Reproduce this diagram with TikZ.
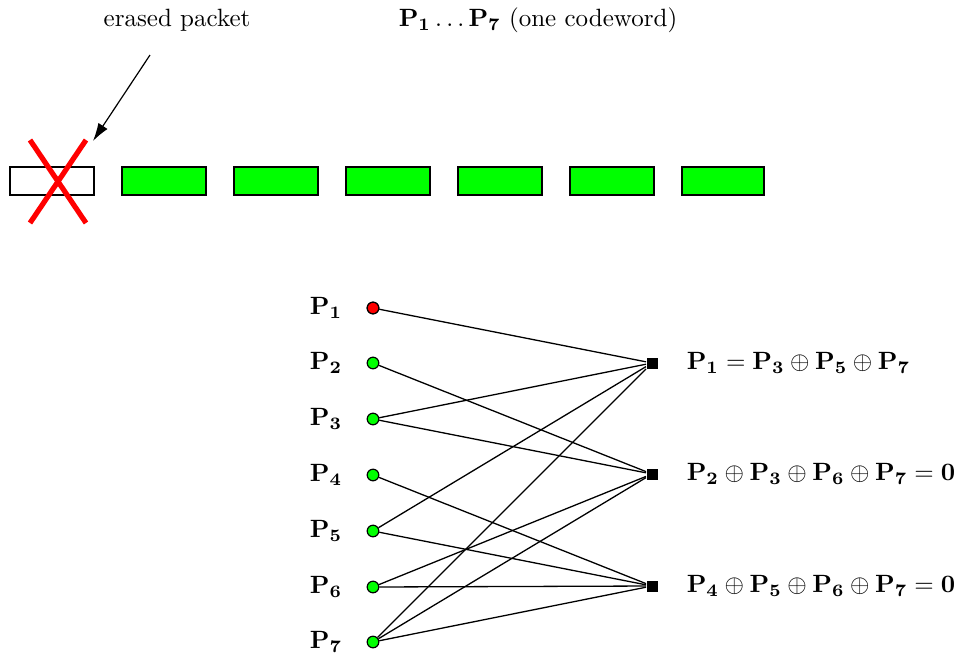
\documentclass[tikz,border=0pt]{standalone}
\usetikzlibrary{arrows.meta}
\begin{document}
\begin{tikzpicture}[x=0.4pt,y=-0.4pt,
  pkt/.style={draw=black, line width=0.56pt, fill=green, minimum width=33.6pt, minimum height=11.2pt, inner sep=0pt},
  vnode/.style={circle, draw=black, line width=0.48pt, fill=green, minimum size=4.64pt, inner sep=0pt},
  cnode/.style={rectangle, fill=black, minimum size=4.4pt, inner sep=0pt},
  edge/.style={line width=0.52pt},
  cross/.style={red, line width=2.08pt}]
\useasboundingbox (0,0) rectangle (959,654);
% top texts
\node (er) at (177,20) {erased packet};
\node (cw) at (538,20) {$\mathbf{P_1}\ldots\mathbf{P_7}$ (one codeword)};
% packets
\node[pkt, fill=white] (k0) at (52,181) {};
\foreach \i/\x in {1/164,2/276,3/388,4/500,5/612}{
  \node[pkt] (k\i) at (\x,181) {};
}
\node[pkt, minimum width=32.8pt] (k6) at (723,181) {};
% red cross
\coordinate (xa) at (30,140); \coordinate (xb) at (86,223);
\coordinate (xc) at (86,140); \coordinate (xd) at (30,223);
\draw[cross] (xa) -- (xb);
\draw[cross] (xc) -- (xd);
% arrow
\coordinate (as) at (150,55);
\coordinate (ae) at (93,141);
\draw[line width=0.48pt, -{Latex[length=7.2pt,width=4.4pt]}] (as) -- (ae);
% variable nodes
\foreach \i/\y in {1/308,2/363,3/419,4/475,5/531,6/587,7/642}{
  \node[vnode] (v\i) at (373,\y) {};
  \node (l\i) at (326,\y) {$\mathbf{P_{\i}}$};
}
\node[vnode, fill=red] at (373,308) {};
% check nodes
\node[cnode] (c1) at (652,363) {};
\node[cnode] (c2) at (652,474) {};
\node[cnode] (c3) at (652,586) {};
\node[anchor=west] (e1) at (678,363) {$\mathbf{P_1=P_3\oplus P_5\oplus P_7}$};
\node[anchor=west] (e2) at (678,474) {$\mathbf{P_2\oplus P_3\oplus P_6\oplus P_7=0}$};
\node[anchor=west] (e3) at (678,586) {$\mathbf{P_4\oplus P_5\oplus P_6\oplus P_7=0}$};
% edges
\foreach \v in {1,3,5,7}{\draw[edge] (v\v) -- (c1);}
\foreach \v in {2,3,6,7}{\draw[edge] (v\v) -- (c2);}
\foreach \v in {4,5,6,7}{\draw[edge] (v\v) -- (c3);}
\end{tikzpicture}
\end{document}
